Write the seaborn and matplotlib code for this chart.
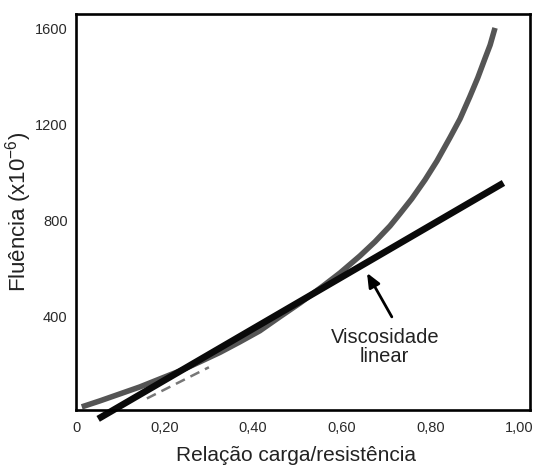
import matplotlib
matplotlib.use("Agg")
import matplotlib.pyplot as plt
import seaborn as sns
import pandas as pd

# ---- data ----
curve_x = [0.013, 0.054, 0.099, 0.144, 0.190, 0.235, 0.280, 0.325, 0.370, 0.415,
           0.460, 0.506, 0.558, 0.596, 0.641, 0.675, 0.709, 0.731, 0.758, 0.788,
           0.815, 0.844, 0.867, 0.889, 0.907, 0.923, 0.935, 0.946]
curve_y = [25, 50, 79, 108, 142, 175, 213, 252, 296, 342,
           400, 458, 529, 583, 654, 713, 779, 829, 892, 971,
           1050, 1146, 1225, 1317, 1396, 1475, 1533, 1604]

linear_x = [0.05, 0.965]
linear_y = [-25, 958]

dash_x = [0.16, 0.30]
dash_y = [60, 190]

xticks = [0, 0.2, 0.4, 0.6, 0.8, 1.0]
xtick_labels = ["0", "0,20", "0,40", "0,60", "0,80", "1,00"]
yticks = [400, 800, 1200, 1600]
ytick_labels = ["400", "800", "1200", "1600"]

annot_text = "Viscosidade\nlinear"
annot_tip = (0.657, 583)
annot_tail = (0.713, 400)
annot_text_pos = (0.697, 273)

# ---- style ----
sns.set_theme(style="white")
plt.rcParams["font.family"] = ["Liberation Sans", "DejaVu Sans"]
plt.rcParams["mathtext.fontset"] = "custom"
plt.rcParams["mathtext.rm"] = "Liberation Sans"
plt.rcParams["mathtext.it"] = "Liberation Sans:italic"

fig = plt.figure(figsize=(5.41, 4.65), dpi=100)
ax = fig.add_axes([0.1405, 0.1183, 0.8392, 0.8516])

df_curve = pd.DataFrame({"x": curve_x, "y": curve_y})
df_lin = pd.DataFrame({"x": linear_x, "y": linear_y})
df_dash = pd.DataFrame({"x": dash_x, "y": dash_y})

sns.lineplot(data=df_dash, x="x", y="y", ax=ax, color="#777777", lw=1.8,
             linestyle=(0, (4, 2.5)), sort=False)
sns.lineplot(data=df_curve, x="x", y="y", ax=ax, color="#555555", lw=4.0,
             sort=False, solid_capstyle="butt", solid_joinstyle="round")
sns.lineplot(data=df_lin, x="x", y="y", ax=ax, color="#0a0a0a", lw=4.8,
             sort=False, solid_capstyle="butt", clip_on=False)

ax.annotate("", xy=annot_tip, xytext=annot_tail,
            arrowprops=dict(arrowstyle="-|>,head_length=0.7,head_width=0.3",
                            color="black", lw=2.0, shrinkA=0, shrinkB=0))
ax.text(annot_text_pos[0], annot_text_pos[1], annot_text,
        ha="center", va="center", fontsize=14.5, color="#222222",
        linespacing=1.0)

ax.set_xlim(0, 1.025)
ax.set_ylim(12, 1662)
ax.set_xticks(xticks)
ax.set_xticklabels(xtick_labels)
ax.set_yticks(yticks)
ax.set_yticklabels(ytick_labels)
ax.tick_params(axis="both", direction="in", length=11, width=2,
               color="black", labelsize=10.5, labelcolor="#2a2a2a")
ax.tick_params(axis="x", pad=8)
ax.tick_params(axis="y", pad=6)

for s in ax.spines.values():
    s.set_visible(True)
    s.set_color("black")
    s.set_linewidth(1.9)

ax.set_xlabel("Relação carga/resistência", fontsize=15, color="#222222")
ax.set_ylabel(r"Fluência (x10$^{-6}$)", fontsize=16, color="#222222")
ax.xaxis.set_label_coords(0.485, -0.09)
ax.yaxis.set_label_coords(-0.092, 0.5)
ax.grid(False)

fig.savefig("out.png", dpi=100, facecolor="white")
